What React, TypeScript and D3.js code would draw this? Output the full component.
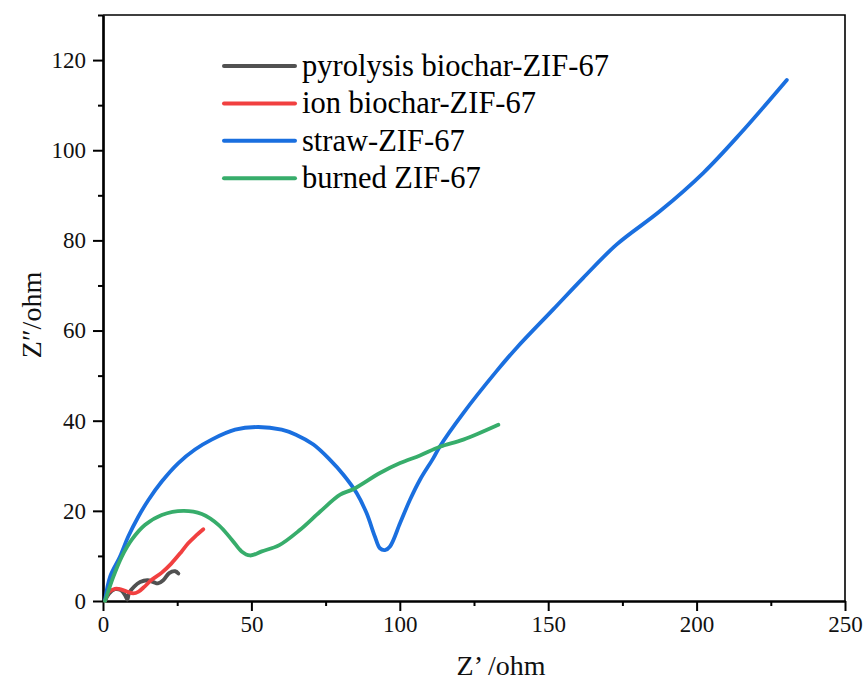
import React, { useEffect, useRef } from "react";
import * as d3 from "d3";

type Pt = [number, number];

// Z' (ohm), Z'' (ohm)
const pyrolysis: Pt[] = [
  [0.7, 0], [2, 1.6], [4, 2.6], [6, 2.4], [7.5, 1.2], [8.2, 0.3], [8.8, 1.8],
  [10.5, 3.2], [12.5, 4.2], [15, 4.6], [17, 4.2], [18.5, 3.9], [20.3, 4.6],
  [22.3, 6.2], [24.3, 6.6], [25.4, 6.1],
];
const ionBiochar: Pt[] = [
  [0.7, 0], [2, 2], [4, 2.7], [6, 2.6], [8, 2.1], [10.2, 1.7], [12, 2.1],
  [14, 3.2], [16.4, 4.7], [19.8, 6.3], [23, 8.3], [26.5, 11], [28.7, 12.8],
  [31, 14.3], [33.8, 15.9],
];
const straw: Pt[] = [
  [0.7, 0.2], [2.4, 5.4], [5.7, 9.8], [8.5, 14.3], [11.9, 18.7], [15.3, 22.4],
  [19.8, 26.5], [25.4, 30.6], [31, 33.6], [36.6, 35.8], [44.5, 38], [52.3, 38.6],
  [60.2, 38], [65, 36.9], [70.9, 34.7], [76.5, 31.3], [81, 28], [85.5, 23.9],
  [88.8, 19.5], [91.6, 14.3], [93.3, 11.7], [95, 11.3], [96.7, 12.1],
  [100.1, 17.3], [103.4, 22.4], [106.8, 26.9], [111.3, 31.7], [113.5, 34.3],
  [121.4, 41.7], [132.6, 51], [139.4, 56.2], [151.7, 64.7], [161.8, 71.7],
  [173.1, 79.1], [187.7, 86.5], [202.3, 95], [214.6, 103.6], [230.4, 115.6],
];
const burned: Pt[] = [
  [0.7, 0], [3.5, 5.4], [6.3, 9.8], [9.7, 13.6], [14.2, 16.9], [19.8, 19.1],
  [27.1, 20], [33.3, 19.3], [38.9, 16.9], [43.4, 13.6], [46.7, 11], [49.5, 10.1],
  [53.5, 11], [59.4, 12.4], [66.4, 15.8], [73.1, 19.8], [79.9, 23.6],
  [84.3, 24.8], [93.3, 28.4], [100.1, 30.6], [106.8, 32.3], [113.5, 34.2],
  [121.4, 35.8], [133.2, 39.1],
];

const seriesNames = ["pyrolysis biochar-ZIF-67", "ion biochar-ZIF-67", "straw-ZIF-67", "burned ZIF-67"];
const seriesData = [pyrolysis, ionBiochar, straw, burned];
const seriesColors = ["#515151", "#F14040", "#1A6FDF", "#37AD6B"];

const xMajor = [0, 50, 100, 150, 200, 250];
const xMinor = [25, 75, 125, 175, 225];
const yMajor = [0, 20, 40, 60, 80, 100, 120];
const yMinor = [10, 30, 50, 70, 90, 110, 130];

const App = () => {
  const svgRef = useRef<SVGSVGElement>(null);

  useEffect(() => {
    const svg = d3.select(svgRef.current);
    svg.selectAll("*").remove();

    const left = 103, right = 845, top = 15, bottom = 601;
    const x = d3.scaleLinear().domain([0, 250]).range([left, right]);
    const y = d3.scaleLinear().domain([0, 130]).range([bottom, top]);
    const font = "'Liberation Serif', 'Times New Roman', serif";

    // frame top / right
    svg.append("path")
      .attr("d", `M${left},${top}H${right}V${bottom}`)
      .attr("fill", "none")
      .attr("stroke", "#000")
      .attr("stroke-width", 1.6);

    const xg = svg.append("g").attr("transform", `translate(0,${bottom})`);
    xg.append("g")
      .call(d3.axisBottom(x).tickValues(xMinor).tickSize(5).tickFormat(() => "").tickSizeOuter(0));
    xg.append("g")
      .call(d3.axisBottom(x).tickValues(xMajor).tickSize(10).tickPadding(5).tickSizeOuter(0));

    const yg = svg.append("g").attr("transform", `translate(${left},0)`);
    yg.append("g")
      .call(d3.axisLeft(y).tickValues(yMinor).tickSize(5).tickFormat(() => "").tickSizeOuter(0));
    yg.append("g")
      .call(d3.axisLeft(y).tickValues(yMajor).tickSize(10).tickPadding(7).tickSizeOuter(0));

    svg.selectAll(".domain").attr("stroke-width", 2.2);
    svg.selectAll(".tick line").attr("stroke-width", 2);
    svg.selectAll(".tick text")
      .attr("font-family", font)
      .attr("font-size", 23)
      .attr("fill", "#111");

    const line = d3.line<Pt>()
      .x((d) => x(d[0]))
      .y((d) => y(d[1]))
      .curve(d3.curveCatmullRom.alpha(0.5));

    seriesData.forEach((data, i) => {
      svg.append("path")
        .datum(data)
        .attr("d", line)
        .attr("fill", "none")
        .attr("stroke", seriesColors[i])
        .attr("stroke-width", 3.8)
        .attr("stroke-linejoin", "round")
        .attr("stroke-linecap", "round");
    });

    // legend
    const lg = svg.append("g").attr("transform", "translate(224,66)");
    seriesNames.forEach((name, i) => {
      const row = lg.append("g").attr("transform", `translate(0,${i * 37.4})`);
      row.append("line")
        .attr("x1", 0).attr("x2", 71)
        .attr("stroke", seriesColors[i])
        .attr("stroke-width", 4)
        .attr("stroke-linecap", "round");
      row.append("text")
        .attr("x", 78)
        .attr("y", 10)
        .attr("font-family", font)
        .attr("font-size", 30.5)
        .attr("fill", "#000")
        .text(name);
    });

    svg.append("text")
      .attr("x", 501)
      .attr("y", 675)
      .attr("text-anchor", "middle")
      .attr("font-family", font)
      .attr("font-size", 28)
      .attr("fill", "#111")
      .text("Z’ /ohm");

    svg.append("text")
      .attr("transform", `translate(41,315) rotate(-90)`)
      .attr("text-anchor", "middle")
      .attr("font-family", font)
      .attr("font-size", 28)
      .attr("fill", "#111")
      .text("Z″/ohm");
  }, []);

  return (
    <svg
      ref={svgRef}
      width={868}
      height={682}
      style={{ position: "absolute", left: 0, top: 0, background: "#fff" }}
    ></svg>
  );
};

export default App;
